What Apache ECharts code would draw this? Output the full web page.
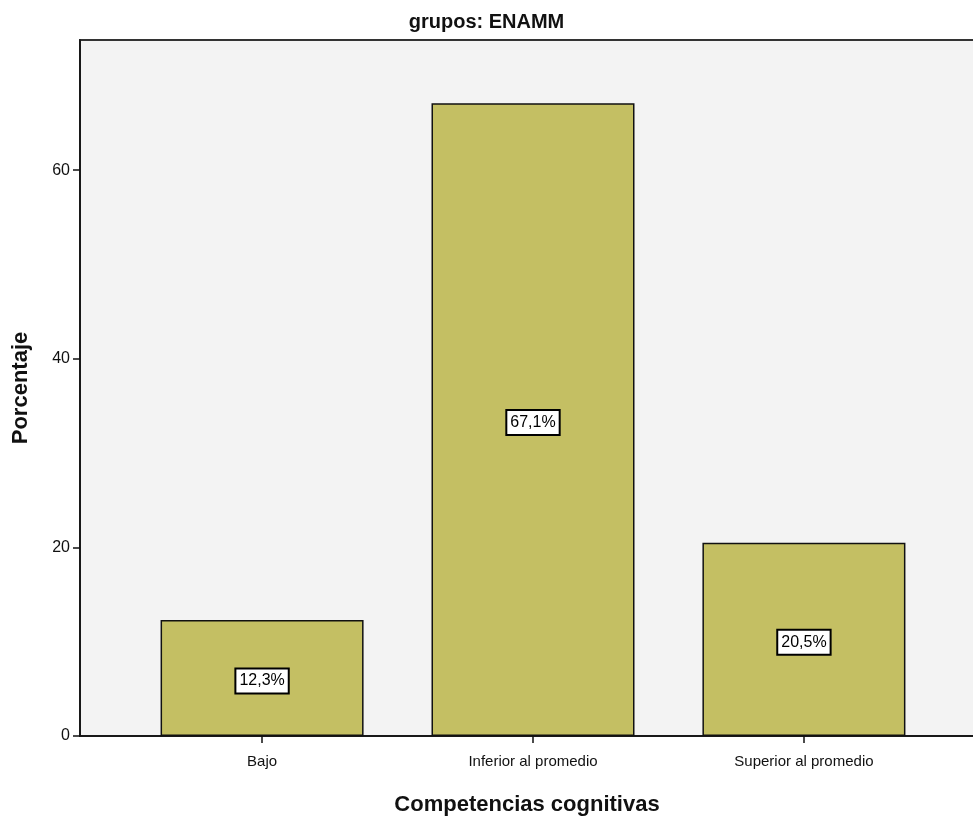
<!DOCTYPE html>
<html><head><meta charset="utf-8">
<script src="https://cdn.jsdelivr.net/npm/echarts@6/dist/echarts.min.js"></script>
<style>html,body{margin:0;padding:0;background:#fff}#c{width:973px;height:818px}</style>
</head><body><div id="c"></div>
<script>
const categories = ['Bajo', 'Inferior al promedio', 'Superior al promedio'];
const values = [12.3, 67.1, 20.5];
const labels = ['12,3%', '67,1%', '20,5%'];
const yTicks = [0, 20, 40, 60];
const FONT = '"Liberation Sans Narrow", "Liberation Sans", Arial, sans-serif';

const chart = echarts.init(document.getElementById('c'));
const positions = categories.map((_, i) => i + 1);
chart.setOption({
  animation: false,
  backgroundColor: '#ffffff',
  title: {
    text: 'grupos: ENAMM', left: 'center', top: 7,
    textStyle: {fontFamily: FONT, fontWeight: 'bold', fontSize: 20, color: '#111'}
  },
  grid: {
    left: 80, width: 906, top: 40, height: 696,
    outerBoundsMode: 'none', containLabel: false,
    show: true, backgroundColor: '#f3f3f3', borderColor: '#333', borderWidth: 2
  },
  xAxis: {
    type: 'value', min: 0.328, max: 3.672,
    name: 'Competencias cognitivas', nameLocation: 'middle', nameGap: 58,
    nameTextStyle: {fontFamily: FONT, fontWeight: 'bold', fontSize: 22, color: '#111', padding: [0, 0, 0, -12]},
    splitLine: {show: false},
    axisLine: {show: true, lineStyle: {color: '#111', width: 1.5}},
    axisTick: {show: true, length: 7, lineStyle: {color: '#111', width: 1.5}, customValues: positions},
    axisLabel: {
      fontFamily: FONT, fontSize: 15, color: '#111', margin: 18, customValues: positions,
      formatter: v => categories[Math.round(v) - 1] || ''
    }
  },
  yAxis: {
    type: 'value', min: 0, max: 73.8, interval: 20,
    name: 'Porcentaje', nameLocation: 'middle', nameGap: 48, nameRotate: 90,
    nameTextStyle: {fontFamily: FONT, fontWeight: 'bold', fontSize: 22, color: '#111'},
    splitLine: {show: false},
    axisLine: {show: true, lineStyle: {color: '#111', width: 1.5}},
    axisTick: {show: true, length: 7, lineStyle: {color: '#111', width: 1.5}, customValues: yTicks},
    axisLabel: {fontFamily: FONT, fontSize: 16, color: '#111', margin: 10, customValues: yTicks}
  },
  series: [{
    type: 'bar',
    barWidth: 203,
    data: values.map((v, i) => [positions[i], v]),
    itemStyle: {color: '#c4bf63', borderColor: '#111', borderWidth: 1.5},
    label: {
      show: true, position: 'inside', offset: [0, 3],
      formatter: p => labels[p.dataIndex],
      fontFamily: FONT, fontSize: 16, color: '#000',
      backgroundColor: '#fff', borderColor: '#000', borderWidth: 2,
      padding: [4, 3, 3, 3]
    }
  }]
});
</script></body></html>
